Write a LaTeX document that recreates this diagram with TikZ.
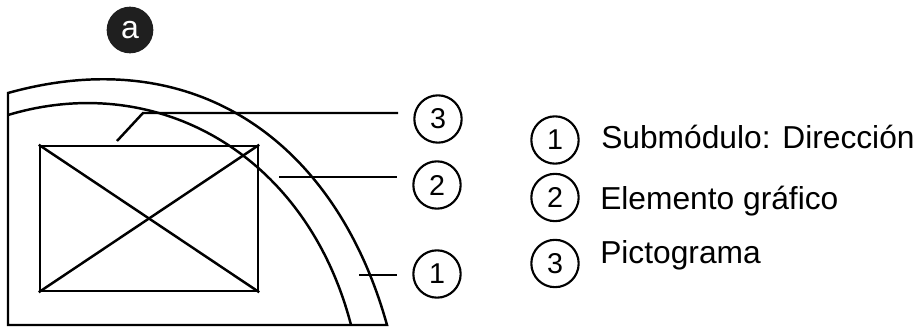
\documentclass[tikz,border=0pt]{standalone}
\usepackage{fontspec}
\setmainfont{Liberation Sans}
\usetikzlibrary{positioning}
\tikzset{
  line/.style={line width=1.85pt, black},
  numcirc/.style={circle, draw=black, line width=1.6pt, minimum size=35.5pt,
                  inner sep=0pt, font=\fontsize{21.5}{22}\selectfont},
  tagcirc/.style={circle, fill=black!88, text=white, minimum size=35pt,
                  inner sep=0pt, font=\fontsize{24}{24}\selectfont},
  pictbox/.style={rectangle, draw=black, line width=1.85pt, inner sep=0pt,
                  minimum width=163.5pt, minimum height=108.75pt},
  legtext/.style={anchor=base west, inner sep=0pt,
                  font=\fontsize{23.8}{24}\selectfont},
}

\begin{document}
\begin{tikzpicture}[x=0.75pt, y=-0.75pt, line join=miter]
    \useasboundingbox (0,0) rectangle (916,327);

    % tag
    \node[tagcirc] (tag) at (130,30) {a};

    % module outline
    \draw[line] (8,93) .. controls (198,40) and (337,145) .. (387,325)
                -- (8,325) -- cycle;
    \draw[line] (8,115) .. controls (158,70) and (307,155) .. (351,325);

    % pictogram
    \node[pictbox] (pict) at (149,218.5) {};
    \draw[line] (pict.north west) -- (pict.south east);
    \draw[line] (pict.south west) -- (pict.north east);

    % callouts
    \node[numcirc] (n3) at (438,119) {3};
    \node[numcirc] (n2) at (437,185) {2};
    \node[numcirc] (n1) at (437,274) {1};
    \coordinate (p3) at (117,141);
    \coordinate (k3) at (143,113);
    \coordinate (e3) at (398,113);
    \coordinate (p2) at (279,177);
    \coordinate (e2) at (397,177);
    \coordinate (p1) at (359,275);
    \coordinate (e1) at (397,275);
    \draw[line] (p3) -- (k3) -- (e3);
    \draw[line] (p2) -- (e2);
    \draw[line] (p1) -- (e1);

    % legend
    \node[numcirc] (l1) at (555,140) {1};
    \node[numcirc] (l2) at (555,197.5) {2};
    \node[numcirc] (l3) at (555,263.5) {3};
    \node[legtext] (t1) at (601,148.5) {Submódulo: Dirección};
    \node[legtext] (t2) at (600,209.5) {Elemento gráfico};
    \node[legtext] (t3) at (600,264) {Pictograma};
  \end{tikzpicture}
\end{document}
